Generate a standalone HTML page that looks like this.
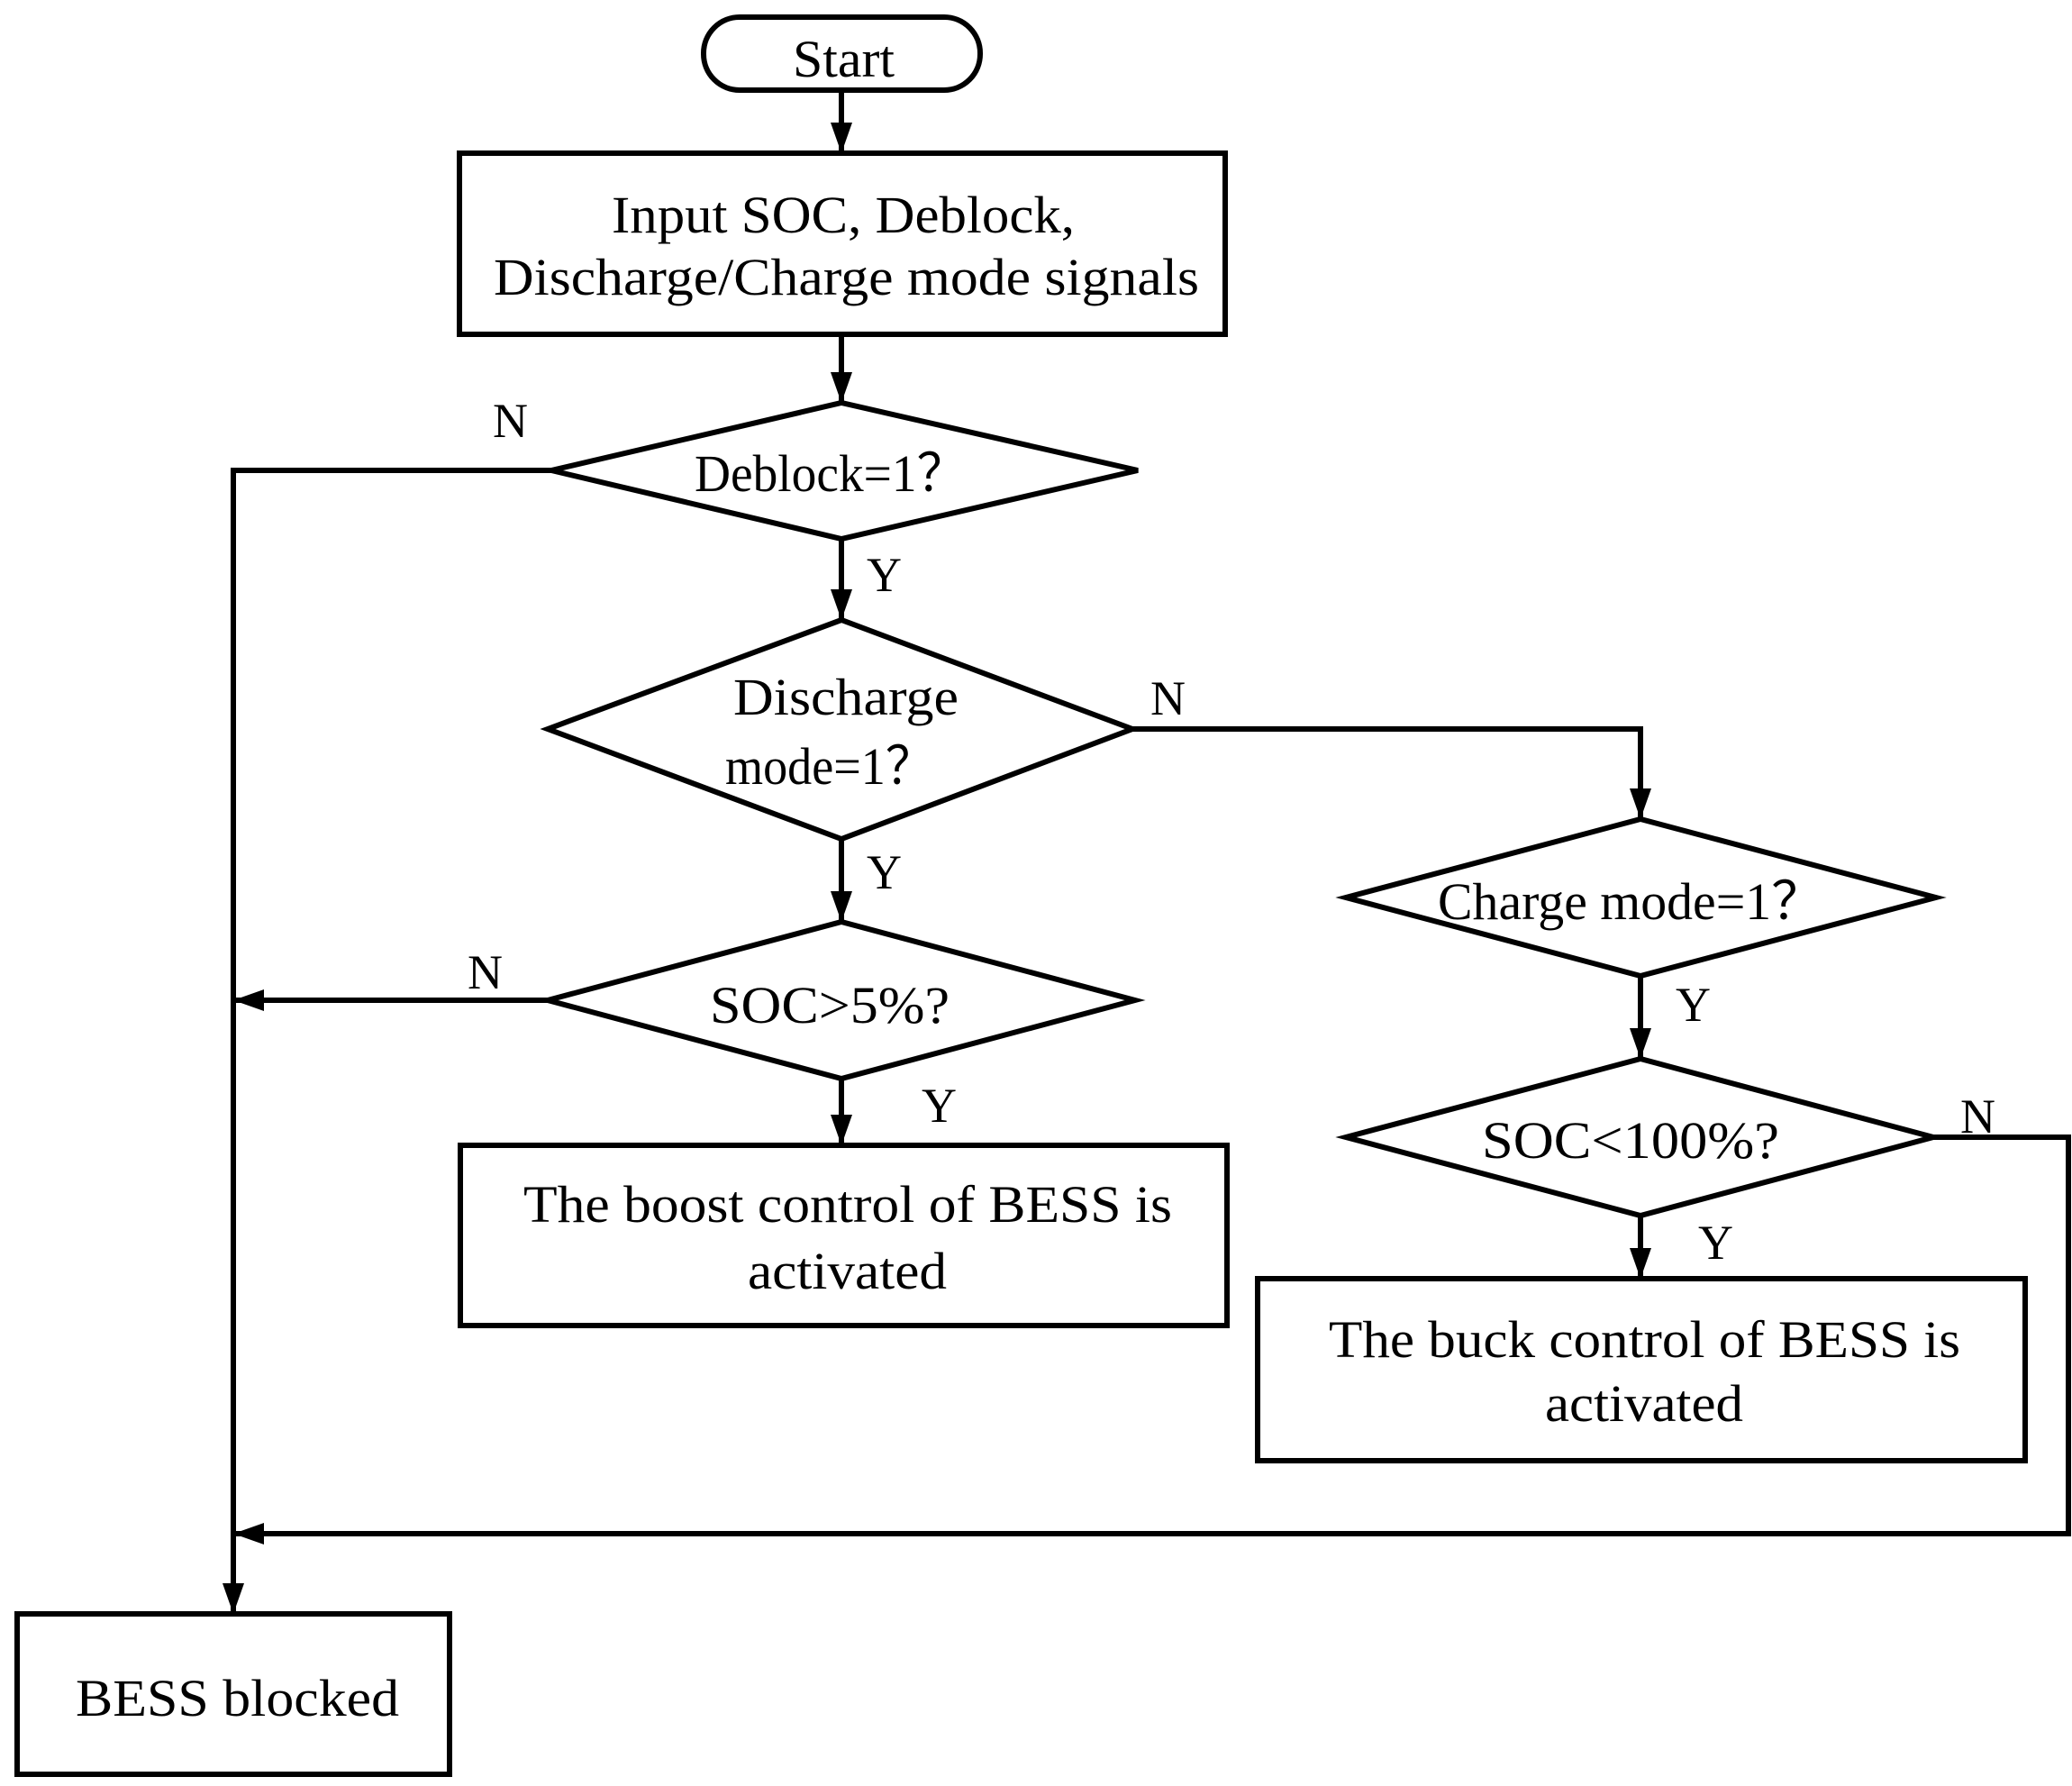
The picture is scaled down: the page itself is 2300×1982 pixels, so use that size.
<!DOCTYPE html>
<html><head><meta charset="utf-8"><style>html,body{margin:0;padding:0;background:#fff}svg{display:block}</style></head>
<body>
<svg width="2300" height="1982" viewBox="0 0 2300 1982" xmlns="http://www.w3.org/2000/svg">
<defs>
<marker id="a" markerWidth="34" markerHeight="24" refX="34" refY="12" orient="auto" markerUnits="userSpaceOnUse">
<path d="M0,0 L34,12 L0,24 Z" fill="#000"/>
</marker>
</defs>
<g fill="none" stroke="#000" stroke-width="6" stroke-linejoin="miter">
<rect x="781" y="19" width="307" height="81" rx="40" ry="40"/>
<rect x="510" y="170" width="850" height="201"/>
<polygon points="612,522 934,447 1263,522 934,598"/>
<polygon points="608,809 934,688 1257,809 934,931"/>
<polygon points="608,1110 934,1023 1260,1110 934,1197"/>
<rect x="511" y="1271" width="851" height="200"/>
<polygon points="1494,996 1821,909 2149,996 1821,1083"/>
<polygon points="1494,1262 1821,1175 2146,1262 1821,1349"/>
<rect x="1396" y="1419" width="852" height="202"/>
<rect x="19" y="1791" width="480" height="178"/>
<!-- connectors -->
<line x1="934" y1="100" x2="934" y2="170" marker-end="url(#a)"/>
<line x1="934" y1="371" x2="934" y2="447" marker-end="url(#a)"/>
<line x1="934" y1="598" x2="934" y2="688" marker-end="url(#a)"/>
<line x1="934" y1="931" x2="934" y2="1023" marker-end="url(#a)"/>
<line x1="934" y1="1197" x2="934" y2="1271" marker-end="url(#a)"/>
<polyline points="612,522 259,522 259,1791" marker-end="url(#a)"/>
<line x1="608" y1="1110" x2="259" y2="1110" marker-end="url(#a)"/>
<polyline points="1257,809 1821,809 1821,909" marker-end="url(#a)"/>
<line x1="1821" y1="1083" x2="1821" y2="1175" marker-end="url(#a)"/>
<line x1="1821" y1="1349" x2="1821" y2="1419" marker-end="url(#a)"/>
<polyline points="2146,1262 2296,1262 2296,1702 259,1702" marker-end="url(#a)"/>
</g>
<g font-family="'Liberation Serif', serif" font-size="58" fill="#000">
<text x="880" y="85" textLength="113" lengthAdjust="spacingAndGlyphs">Start</text>
<text x="679" y="258" textLength="514" lengthAdjust="spacingAndGlyphs">Input SOC, Deblock,</text>
<text x="548" y="327" textLength="783" lengthAdjust="spacingAndGlyphs">Discharge/Charge mode signals</text>
<text x="771" y="545" textLength="302" lengthAdjust="spacingAndGlyphs">Deblock=1？</text>
<text x="814" y="793" textLength="250" lengthAdjust="spacingAndGlyphs">Discharge</text>
<text x="805" y="870" textLength="232" lengthAdjust="spacingAndGlyphs">mode=1？</text>
<text x="788" y="1135" textLength="266" lengthAdjust="spacingAndGlyphs">SOC&gt;5%?</text>
<text x="581" y="1356" textLength="720" lengthAdjust="spacingAndGlyphs">The boost control of BESS is</text>
<text x="830" y="1430" textLength="221" lengthAdjust="spacingAndGlyphs">activated</text>
<text x="1596" y="1020" textLength="428" lengthAdjust="spacingAndGlyphs">Charge mode=1？</text>
<text x="1645" y="1285" textLength="330" lengthAdjust="spacingAndGlyphs">SOC&lt;100%?</text>
<text x="1475" y="1506" textLength="701" lengthAdjust="spacingAndGlyphs">The buck control of BESS is</text>
<text x="1715" y="1577" textLength="220" lengthAdjust="spacingAndGlyphs">activated</text>
<text x="84" y="1904" textLength="359" lengthAdjust="spacingAndGlyphs">BESS blocked</text>
</g>
<g font-family="'Liberation Serif', serif" font-size="54" fill="#000">
<text x="547" y="485">N</text>
<text x="962" y="656">Y</text>
<text x="1277" y="793">N</text>
<text x="962" y="986">Y</text>
<text x="519" y="1097">N</text>
<text x="1023" y="1245">Y</text>
<text x="1860" y="1133">Y</text>
<text x="2176" y="1257">N</text>
<text x="1885" y="1397">Y</text>
</g>
</svg>
</body></html>
